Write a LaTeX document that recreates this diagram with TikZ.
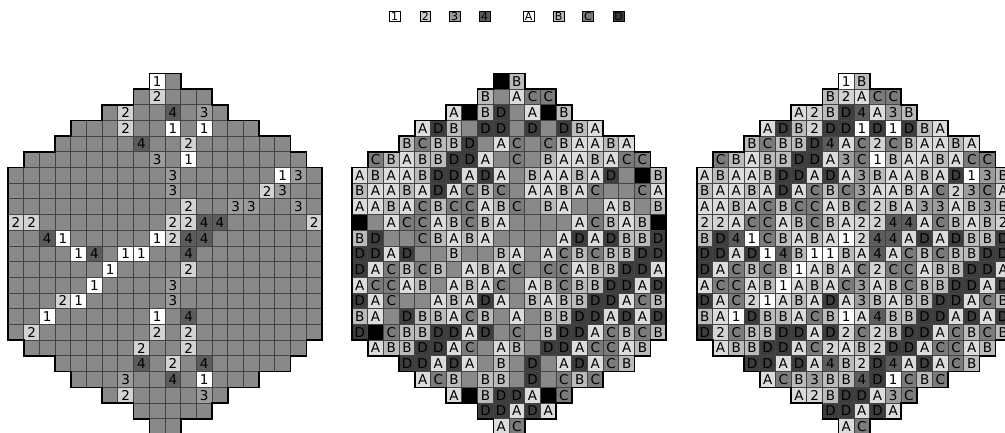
\documentclass[tikz,border=0pt]{standalone}
\usepackage{fontspec}
\setmainfont{DejaVu Sans}
\definecolor{cG}{HTML}{898989}
\definecolor{c1}{HTML}{FFFFFF}
\definecolor{c2}{HTML}{D3D3D3}
\definecolor{c3}{HTML}{9C9C9C}
\definecolor{c4}{HTML}{5C5C5C}
\definecolor{cA}{HTML}{DCDCDC}
\definecolor{cB}{HTML}{BBBBBB}
\definecolor{cC}{HTML}{7B7B7B}
\definecolor{cD}{HTML}{3D3D3D}
\definecolor{cK}{HTML}{000000}
\definecolor{cellline}{HTML}{444444}
\definecolor{l1}{HTML}{FFFFFF}
\definecolor{l2}{HTML}{CDCDCD}
\definecolor{l3}{HTML}{9A9A9A}
\definecolor{l4}{HTML}{5A5A5A}
\definecolor{lA}{HTML}{FFFFFF}
\definecolor{lB}{HTML}{B8B8B8}
\definecolor{lC}{HTML}{7A7A7A}
\definecolor{lD}{HTML}{3A3A3A}
\newcommand\deftok[7]{%
 \expandafter\def\csname fa-#1\endcsname{#2}%
 \expandafter\def\csname ta-#1\endcsname{#3}%
 \expandafter\def\csname fb-#1\endcsname{#4}%
 \expandafter\def\csname tb-#1\endcsname{#5}%
 \expandafter\def\csname fc-#1\endcsname{#6}%
 \expandafter\def\csname tc-#1\endcsname{#7}}
\deftok{A}{cG}{}{cA}{A}{cA}{A}
\deftok{B}{cG}{}{cB}{B}{cB}{B}
\deftok{C}{cG}{}{cC}{C}{cC}{C}
\deftok{D}{cG}{}{cD}{D}{cD}{D}
\deftok{1}{c1}{1}{cG}{}{c1}{1}
\deftok{2}{c2}{2}{cG}{}{c2}{2}
\deftok{3}{c3}{3}{cG}{}{c3}{3}
\deftok{4}{c4}{4}{cG}{}{c4}{4}
\deftok{1k}{c1}{1}{cK}{}{c1}{1}
\deftok{2k}{c2}{2}{cK}{}{c2}{2}
\deftok{3k}{c3}{3}{cK}{}{c3}{3}
\begin{document}
\begin{tikzpicture}[x=1pt,y=-1pt,
  cell/.style={draw=cellline, line width=1pt, minimum width=15.7pt, minimum height=15.7pt,
    inner sep=0pt, anchor=center, font=\fontsize{13.5}{16}\selectfont},
  legbox/.style={draw=black, line width=0.8pt, minimum width=10.7pt, minimum height=10pt,
    inner sep=0pt, font=\fontsize{11}{12}\selectfont},
  outline/.style={draw=black, line width=1.6pt, line join=miter}]
\useasboundingbox (0,0) rectangle (1005,432);
\clip (0,0) rectangle (1005,432);
% legend
\foreach \lab/\lx/\lcol [count=\k] in {1/394.7/l1,2/425.3/l2,3/454.7/l3,4/484.7/l4,A/528.7/lA,B/558.7/lB,C/588/lC,D/618.7/lD}
  \node[legbox, fill=\lcol, name=leg\k] at (\lx,16.7) {\lab};
% grids
\foreach \row/\st/\cells in {%
0/9/{1k,B},
1/8/{B,2,A,C,C},
2/6/{A,2k,B,D,4,A,3k,B},
3/4/{A,D,B,2,D,D,1,D,1,D,B,A},
4/3/{B,C,B,B,D,4,A,C,2,C,B,A,A,B,A},
5/1/{C,B,A,B,B,D,D,A,3,C,1,B,A,A,B,A,C,C},
6/0/{A,B,A,A,B,D,D,A,D,A,3,B,A,A,B,A,D,1,3k,B},
7/0/{B,A,A,B,A,D,A,C,B,C,3,A,A,B,A,C,2,3,C,A},
8/0/{A,A,B,A,C,B,C,C,A,B,C,2,B,A,3,3,A,B,3,B},
9/0/{2k,2,A,C,C,A,B,C,B,A,2,2,4,4,A,C,B,A,B,2k},
10/0/{B,D,4,1,C,B,A,B,A,1,2,4,4,A,D,A,D,B,B,D},
11/0/{D,D,A,D,1,4,B,1,1,B,A,4,A,C,B,C,B,B,D,D},
12/0/{D,A,C,B,C,B,1,A,B,A,C,2,C,C,A,B,B,D,D,A},
13/0/{A,C,C,A,B,1,A,B,A,C,3,A,B,C,B,B,D,D,A,D},
14/0/{D,A,C,2,1,A,B,A,D,A,3,B,A,B,B,D,D,A,C,B},
15/0/{B,A,1,D,B,B,A,C,B,1,A,4,B,B,D,D,A,D,A,D},
16/0/{D,2k,C,B,B,D,D,A,D,2,C,2,B,D,D,A,C,B,C,B},
17/1/{A,B,B,D,D,A,C,2,A,B,2,D,D,A,C,C,A,B},
18/3/{D,D,A,D,A,4,B,2,D,4,A,D,A,C,B},
19/4/{A,C,B,3,B,B,4,D,1,C,B,C},
20/6/{A,2k,B,D,D,A,3k,C},
21/8/{D,D,A,D,A},
22/9/{A,C}}{
  \foreach \tk [count=\i from 0] in \cells {
    \pgfmathsetmacro\cx{(\st+\i+0.5)*15.7}
    \pgfmathsetmacro\cy{73.3+(\row+0.5)*15.7}
    \pgfmathtruncatemacro\cn{\st+\i}
    \edef\fa{\csname fa-\tk\endcsname}\edef\ta{\csname ta-\tk\endcsname}
    \edef\fb{\csname fb-\tk\endcsname}\edef\tb{\csname tb-\tk\endcsname}
    \edef\fc{\csname fc-\tk\endcsname}\edef\tc{\csname tc-\tk\endcsname}
    \node[cell, fill=\fa, name=a-\row-\cn] at ({8+\cx},\cy) {\ta};
    \node[cell, fill=\fb, name=b-\row-\cn] at ({352+\cx},\cy) {\tb};
    \node[cell, fill=\fc, name=c-\row-\cn] at ({697+\cx},\cy) {\tc};
  }
}
% outlines
\foreach \gx in {8,352,697}{
 \begin{scope}[shift={(\gx,73.3)}, x=15.7pt, y=-15.7pt]
  \draw[outline] (9,0) -- (11,0) -- (11,1) -- (13,1) -- (13,2) -- (14,2) -- (14,3) -- (16,3)
   -- (16,4) -- (18,4) -- (18,5) -- (19,5) -- (19,6) -- (20,6) -- (20,17) -- (19,17)
   -- (19,18) -- (18,18) -- (18,19) -- (16,19) -- (16,20) -- (14,20) -- (14,21) -- (13,21)
   -- (13,22) -- (11,22) -- (11,23) -- (9,23) -- (9,22) -- (8,22) -- (8,21) -- (6,21)
   -- (6,20) -- (4,20) -- (4,19) -- (3,19) -- (3,18) -- (1,18) -- (1,17) -- (0,17)
   -- (0,6) -- (1,6) -- (1,5) -- (3,5) -- (3,4) -- (4,4) -- (4,3) -- (6,3) -- (6,2)
   -- (8,2) -- (8,1) -- (9,1) -- cycle;
 \end{scope}
}
\end{tikzpicture}
\end{document}
